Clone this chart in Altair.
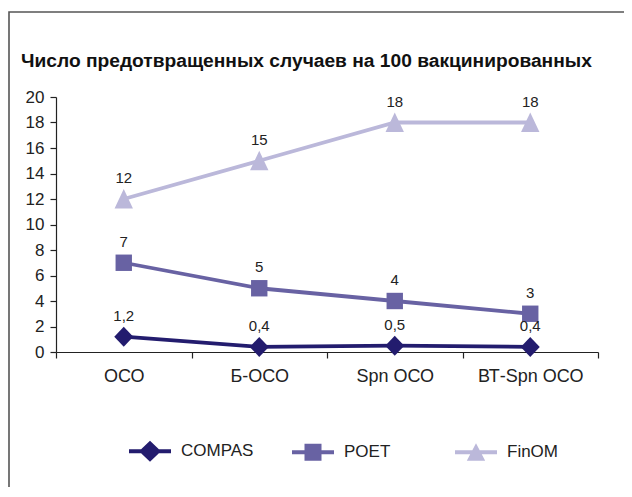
import altair as alt
import pandas as pd

# ---- data ----
categories = ["ОСО", "Б-ОСО", "Spn ОСО", "ВТ-Spn ОСО"]
series_names = ["COMPAS", "POET", "FinOM"]
compas = [1.2, 0.4, 0.5, 0.4]
poet = [7, 5, 4, 3]
finom = [12, 15, 18, 18]
compas_labels = ["1,2", "0,4", "0,5", "0,4"]
poet_labels = ["7", "5", "4", "3"]
finom_labels = ["12", "15", "18", "18"]
y_ticks = [0, 2, 4, 6, 8, 10, 12, 14, 16, 18, 20]
title_text = "Число предотвращенных случаев на 100 вакцинированных"

# ---- styles ----
colors = ["#231c6e", "#6862a3", "#bbb8da"]
FONT = "Liberation Sans"
TXT = "#222222"
point_paths = [
    "M0,-1L0.95,0L0,1L-0.95,0Z",
    "M-0.82,-0.82H0.82V0.82H-0.82Z",
    "M0,-1L0.92,0.95H-0.92Z",
]
seg = "M-2.1,-0.2H2.1V0.2H-2.1Z"
legend_paths = [
    seg + "M0,-1.05L1.1,0L0,1.05L-1.1,0Z",
    seg + "M-0.85,-0.85H0.85V0.85H-0.85Z",
    seg + "M0,-0.9L0.92,0.85H-0.92Z",
]

rows = []
for name, vals, labs in zip(series_names, [compas, poet, finom],
                            [compas_labels, poet_labels, finom_labels]):
    for c, v, l in zip(categories, vals, labs):
        rows.append({"cat": c, "value": v, "series": name, "label": l})
df = pd.DataFrame(rows)

x_enc = alt.X(
    "cat:N",
    sort=categories,
    scale=alt.Scale(type="band", domain=categories, paddingInner=0, paddingOuter=0),
    axis=alt.Axis(
        title=None, labelAngle=0, tickBand="extent", grid=False,
        labelFont=FONT, labelFontSize=18, labelColor=TXT, labelPadding=9,
        tickSize=6, tickColor="#222", tickWidth=1.2,
        domainColor="#222", domainWidth=1.2,
    ),
)
y_enc = alt.Y(
    "value:Q",
    scale=alt.Scale(domain=[0, 20], nice=False, zero=True),
    axis=alt.Axis(
        title=None, values=y_ticks, grid=False,
        labelFont=FONT, labelFontSize=17, labelColor=TXT, labelPadding=6,
        tickSize=6, tickColor="#222", tickWidth=1.2,
        domainColor="#222", domainWidth=1.2,
    ),
)
legend = alt.Legend(
    title=None, orient="none", legendX=84, legendY=344, direction="horizontal",
    symbolSize=400, symbolStrokeWidth=0, symbolOpacity=1,
    labelFont=FONT, labelFontSize=17, labelColor=TXT, labelOffset=21,
    columnPadding=38, gridAlign="all",
)
color_enc = alt.Color(
    "series:N", sort=series_names,
    scale=alt.Scale(domain=series_names, range=colors),
    legend=legend,
)

base = alt.Chart(df)

frame = alt.Chart(pd.DataFrame({"f": [0]})).mark_rect(
    filled=False, stroke="#555555", strokeWidth=1.6
).encode(
    x=alt.value(-47), x2=alt.value(800), y=alt.value(-85), y2=alt.value(700)
)

lines = base.mark_line(strokeWidth=3.8).encode(x=x_enc, y=y_enc, color=color_enc)

point_layers = []
for name, path in zip(series_names, point_paths):
    point_layers.append(
        base.transform_filter(alt.datum.series == name)
        .mark_point(filled=True, opacity=1, size=400, shape=path)
        .encode(x=x_enc, y=y_enc, color=color_enc)
    )

legend_layer = base.mark_point(filled=True, opacity=0, size=400).encode(
    x=x_enc, y=y_enc, color=color_enc,
    shape=alt.Shape(
        "series:N", sort=series_names,
        scale=alt.Scale(domain=series_names, range=legend_paths),
        legend=legend,
    ),
)

labels = base.mark_text(
    dy=-16, baseline="alphabetic", font=FONT, fontSize=15, color=TXT
).encode(x=x_enc, y=y_enc, text="label:N")

chart = alt.layer(frame, lines, *point_layers, legend_layer, labels).properties(
    width=542,
    height=255,
    padding={"left": 48, "top": 89, "right": 26, "bottom": 135},
    autosize=alt.AutoSizeParams(type="none"),
    title=alt.TitleParams(
        title_text, anchor="start", frame="group", dx=-35, offset=-75,
        baseline="alphabetic", font=FONT, fontSize=19.2, fontWeight="bold",
        color="#111111",
    ),
).configure_view(stroke=None)

chart.save("out.html", embed_options={"renderer": "svg", "actions": False})
